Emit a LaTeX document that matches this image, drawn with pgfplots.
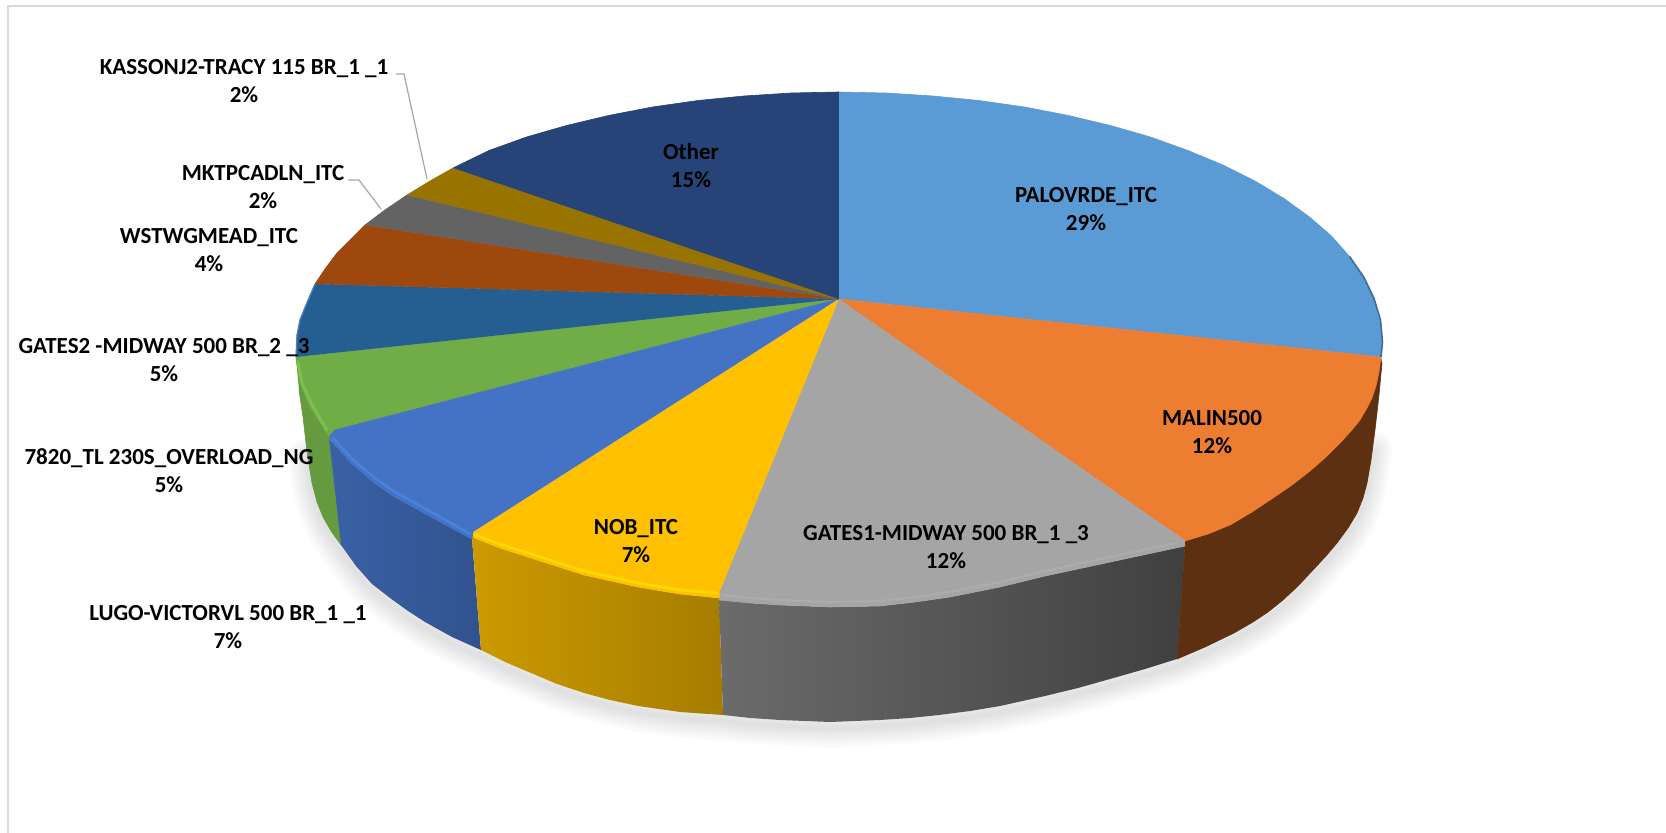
\documentclass[border=0pt]{standalone}
\usepackage{pgfplots}
\pgfplotsset{compat=1.18}
\usepackage{fontspec}
\setmainfont{Carlito}

\definecolor{palo}{HTML}{5B9BD5}
\definecolor{malin}{HTML}{ED7D31}
\definecolor{gatesa}{HTML}{A5A5A5}
\definecolor{nob}{HTML}{FFC000}
\definecolor{lugo}{HTML}{4472C4}
\definecolor{tlng}{HTML}{70AD47}
\definecolor{gatesb}{HTML}{255E91}
\definecolor{wstwg}{HTML}{9E480E}
\definecolor{mktp}{HTML}{636363}
\definecolor{kasson}{HTML}{997300}
\definecolor{other}{HTML}{264478}
\definecolor{malinside}{HTML}{5E3012}
\definecolor{tlngside}{HTML}{659A3F}
\definecolor{lugorim}{HTML}{4A82DA}
\definecolor{nobrim}{HTML}{FFDA00}
\definecolor{tlngrim}{HTML}{7CC050}

% lower outline of the pie, used for the shadow
\pgfplotstableread{
x y
307 452
312 483
317 502
323 517
331 531
341 545
356 566
372 584
390 598
408 611
425 622
452 637
481 650
505 662
531 673
557 684
584 693
610 700
638 706
680 712
723 715
750 718
780 720
830 722
880 720
910 718
939 715
970 711
1000 706
1045 696
1078 688
1110 679
1145 669
1177 659
1205 647
1234 633
1253 622
1268 612
1283 600
1298 586
1313 570
1326 556
1337 543
1348 528
1357 513
1363 498
1367 483
1371 460
1373 445
}\silhouette

\tikzset{
  face/.style={draw=#1,fill=#1,line width=0.3pt,line join=round},
  soft/.style={draw=black,draw opacity=0.012,line width=#1,line join=round,line cap=round,yshift=-3pt},
  rim/.style={draw=#1,line width=1.4pt,line cap=round,line join=round},
  lab/.style={font=\bfseries\fontsize{11.5}{14}\selectfont,align=center,text=black,inner sep=0pt},
}

\begin{document}
\begin{tikzpicture}
\begin{axis}[
    scale only axis,
    width=833pt, height=416.5pt,
    xmin=0, xmax=1666, ymin=0, ymax=833,
    y dir=reverse,
    hide axis,
    no marks,
]
\path (axis cs:0,0) rectangle (axis cs:1666,833);
% frame, only top and left show
\addplot[draw=black!15,line width=1.1pt] coordinates {(8,833)(8,6)(1666,6)};

% soft shadow under the pie
\addplot[soft=2pt] table {\silhouette};
\addplot[soft=4pt] table {\silhouette};
\addplot[soft=6pt] table {\silhouette};
\addplot[soft=8pt] table {\silhouette};
\addplot[soft=10pt] table {\silhouette};
\addplot[soft=12pt] table {\silhouette};
\addplot[soft=14pt] table {\silhouette};
\addplot[soft=16pt] table {\silhouette};
\addplot[soft=18pt] table {\silhouette};
\addplot[soft=20pt] table {\silhouette};

% sides
\addplot[face=tlngside] coordinates {(296,358)(300,383)(310,407)(329,437)(341,545)(331,531)(323,517)(317,502)(312,483)(307,452)(303,417)(299,390)};
\addplot[draw=none,shading=axis,left color=lugo!85!black,right color=lugo!72!black] coordinates {(329,438)(350,462)(373,482)(393,496)(413,507)(442,523)(472,539)(481,650)(452,637)(425,622)(408,611)(390,598)(372,584)(356,566)(341,545)} -- cycle;
\addplot[draw=none,shading=axis,left color=nob!80!black,right color=nob!65!black] coordinates {(472,537)(500,548)(531,558)(584,575)(638,587)(680,594)(719,598)(723,715)(680,712)(638,706)(610,700)(584,693)(557,684)(531,673)(505,662)(481,650)} -- cycle;
\addplot[draw=none,shading=axis,left color=black!58,right color=black!75] coordinates {(719,598)(750,603)(780,605)(830,607)(880,606)(915,602)(950,597)(1000,587)(1045,576)(1115,561)(1185,546)(1177,659)(1145,669)(1110,679)(1078,688)(1045,696)(1000,706)(970,711)(939,715)(910,718)(880,720)(830,722)(780,720)(750,718)(723,715)} -- cycle;
\addplot[face=malinside] coordinates {(1380,350)(1370,395)(1358,415)(1338,438)(1308,466)(1271,493)(1228,520)(1185,536)(1185,546)(1177,659)(1205,647)(1234,633)(1253,622)(1268,612)(1283,600)(1298,586)(1313,570)(1326,556)(1337,543)(1348,528)(1357,513)(1363,498)(1367,483)(1371,460)(1375,430)(1379,395)(1382,363)};

% top face
\addplot[face=palo] coordinates {(838.5,299)(838.5,92)(886,93)(933,96)(979,100.5)(1024.5,107)(1068.5,115.5)(1110.5,125.5)(1150.5,137)(1188,150.5)(1223,165)(1255,181)(1284,198.5)(1309.5,217)(1331.5,236)(1349.5,256.5)(1364,277.5)(1374,298.5)(1380.5,320)(1382.5,342)(1381,357)};
\addplot[face=malin] coordinates {(838.5,299)(1381,357)(1379,372)(1376,386)(1372,398)(1367,408)(1360,420)(1351,431)(1340,443)(1326,457)(1310,471)(1292,485)(1273,498)(1252,512)(1230,525)(1208,534)(1185,541)};
\addplot[face=gatesa] coordinates {(838.5,299)(1184,540)(1185,546)(1115,561)(1045,576)(1000,587)(950,597)(915,602)(880,606)(830,607)(780,605)(750,603)(719,600)(720,590)};
\addplot[face=nob] coordinates {(838.5,299)(720,590)(719,598)(680,594)(638,587)(584,575)(531,558)(500,548)(472,537)(473,532)};
\addplot[face=tlng] coordinates {(838.5,299)(296,357)(300,383)(310,407)(329,437)(335,430)};
\addplot[face=lugo] coordinates {(838.5,299)(335,430)(329,437)(350,462)(373,482)(393,496)(413,507)(442,523)(472,539)(473,532)};
\addplot[face=gatesb] coordinates {(838.5,299)(315,284)(306,305)(300,320)(297,335)(296,357)};
\addplot[face=wstwg] coordinates {(838.5,299)(365,225)(337,253)(325,269)(315,284)};
\addplot[face=mktp] coordinates {(838.5,299)(407,195)(385,210)(365,225)};
\addplot[face=kasson] coordinates {(838.5,299)(453,168)(430,181)(407,195)};
\addplot[face=other] coordinates {(838.5,299)(838.5,92)(791,93)(744,96)(698,100.5)(652.5,107)(608.5,115.5)(566.5,125.5)(526.5,137)(489,150.5)(453,168)};

% bevel highlights on the rim
\addplot[rim=tlngrim] coordinates {(298,362)(302,383)(312,405)(327,430)};
\addplot[rim=lugorim] coordinates {(333,438)(352,459)(375,478)(395,492)(415,503)(444,519)(470,534)};
\addplot[rim=nobrim] coordinates {(475,535)(500,544)(531,554)(584,571)(638,583)(680,590)(717,593)};
\addplot[rim=gatesa!92!white,line width=1.1pt] coordinates {(723,595)(750,598)(780,600)(830,602)(880,601)(915,597)(950,592)(1000,582)(1045,571)(1115,556)(1176,543)};
\addplot[draw=palo!70!black,line width=0.8pt] coordinates {(1349.5,256.5)(1364,277.5)(1374,298.5)(1380.5,320)(1382.5,342)(1381,357)};
\addplot[draw=palo!85!black,line width=0.6pt] coordinates {(315,284)(306,305)(300,320)(297,335)(296,357)};

% leader lines
\addplot[draw=black!35,line width=0.6pt] coordinates {(396,74)(404,74)(427,179)};
\addplot[draw=black!35,line width=0.6pt] coordinates {(348,180)(359,180)(381,209)};

% labels
\node[lab] at (axis cs:244,81) {KASSONJ2-TRACY 115 BR\_1 \_1\\2\%};
\node[lab] at (axis cs:263,187.5) {MKTPCADLN\_ITC\\2\%};
\node[lab] at (axis cs:209,250.5) {WSTWGMEAD\_ITC\\4\%};
\node[lab] at (axis cs:164,360.5) {GATES2 -MIDWAY 500 BR\_2 \_3\\5\%};
\node[lab] at (axis cs:169,471) {7820\_TL 230S\_OVERLOAD\_NG\\5\%};
\node[lab] at (axis cs:228,627.5) {LUGO-VICTORVL 500 BR\_1 \_1\\7\%};
\node[lab] at (axis cs:636,541) {NOB\_ITC\\7\%};
\node[lab] at (axis cs:946,547.5) {GATES1-MIDWAY 500 BR\_1 \_3\\12\%};
\node[lab] at (axis cs:1212,432.5) {MALIN500\\12\%};
\node[lab] at (axis cs:1086,209) {PALOVRDE\_ITC\\29\%};
\node[lab] at (axis cs:691,166) {Other\\15\%};
\end{axis}
\end{tikzpicture}
\end{document}
